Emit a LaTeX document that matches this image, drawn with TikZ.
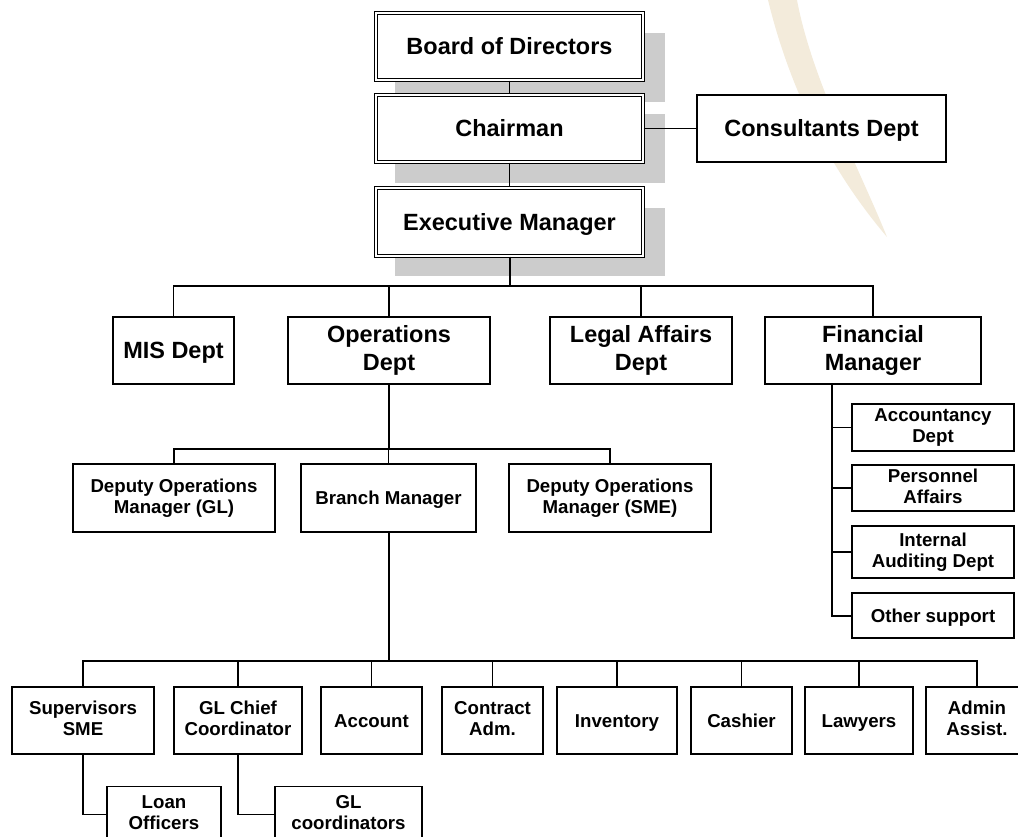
\documentclass[tikz,border=0pt]{standalone}
\usepackage{fontspec}
\setmainfont{Liberation Sans}
\definecolor{shadowgray}{HTML}{CCCCCC}
\definecolor{swoosh}{HTML}{F3EBDB}
\newcommand\toppart{\rule{0pt}{0.92em}}
\newcommand\botpart{\rule[-0.22em]{0pt}{0.22em}}
\tikzset{
  box/.style={draw=black, line width=0.9pt, fill=white, align=center, inner sep=2pt,
    font=\fontsize{14}{15.8}\selectfont\bfseries,
    execute at begin node=\toppart, execute at end node=\botpart},
  bigbox/.style={box, font=\fontsize{17.6}{20.8}\selectfont\bfseries},
  dblbox/.style={bigbox, double=white, double distance=1.2pt, line width=0.9pt},
  conn/.style={draw=black, line width=0.8pt},
  thickconn/.style={draw=black, line width=1.5pt}
}
\begin{document}
\begin{tikzpicture}[x=0.75pt, y=-0.75pt]
\useasboundingbox (0,0) rectangle (1018,836);
% background swoosh
\fill[swoosh] (768,0) .. controls (790,90) and (830,170) .. (887,237)
   .. controls (860,170) and (812,80) .. (797,0) -- cycle;
% shadows
\fill[shadowgray] (395,33) rectangle (665,102);
\fill[shadowgray] (395,114) rectangle (665,183);
\fill[shadowgray] (395,208) rectangle (665,276);

% top level nodes
\node[dblbox, minimum width=200.25pt, minimum height=50.25pt] (board) at (509.5,46.5) {Board of Directors};
\node[dblbox, minimum width=200.25pt, minimum height=50.25pt] (chair) at (509.5,128.5) {Chairman};
\node[dblbox, minimum width=200.25pt, minimum height=51pt] (exec) at (509.5,222) {Executive Manager};
\node[bigbox, minimum width=186.75pt, minimum height=50.25pt] (cons) at (821.5,128.5) {Consultants Dept};

% level 2
\node[bigbox, minimum width=90.75pt, minimum height=50.25pt] (mis) at (173.5,350.5) {MIS Dept};
\node[bigbox, minimum width=151.5pt, minimum height=50.25pt] (ops) at (389,350.5) {Operations\\Dept};
\node[bigbox, minimum width=136.5pt, minimum height=50.25pt] (legal) at (641,350.5) {Legal Affairs\\Dept};
\node[bigbox, minimum width=162pt, minimum height=50.25pt] (fin) at (873,350.5) {Financial\\Manager};

% level 3
\node[box, minimum width=151.5pt, minimum height=51pt] (dgl) at (174,498) {Deputy Operations\\Manager (GL)};
\node[box, minimum width=131.25pt, minimum height=51pt] (bm) at (388.5,498) {Branch Manager};
\node[box, minimum width=151.5pt, minimum height=51pt] (dsme) at (610,498) {Deputy Operations\\Manager (SME)};

% financial sub
\node[box, minimum width=121.5pt, minimum height=35.25pt] (acc) at (933,427.5) {Accountancy\\Dept};
\node[box, minimum width=121.5pt, minimum height=34.5pt] (pers) at (933,488) {Personnel\\Affairs};
\node[box, minimum width=121.5pt, minimum height=39pt] (intl) at (933,552) {Internal\\Auditing Dept};
\node[box, minimum width=121.5pt, minimum height=33.75pt] (oth) at (933,615.5) {Other support};

% bottom row
\node[box, minimum width=106.5pt, minimum height=50.25pt] (sup) at (83,720.5) {Supervisors\\SME};
\node[box, minimum width=96pt, minimum height=50.25pt] (glc) at (238,720.5) {GL Chief\\Coordinator};
\node[box, minimum width=75.75pt, minimum height=50.25pt] (acct) at (371.5,720.5) {Account};
\node[box, minimum width=75.75pt, minimum height=50.25pt] (contr) at (492.5,720.5) {Contract\\Adm.};
\node[box, minimum width=90pt, minimum height=50.25pt] (inv) at (617,720.5) {Inventory};
\node[box, minimum width=75.75pt, minimum height=50.25pt] (cash) at (741.5,720.5) {Cashier};
\node[box, minimum width=81pt, minimum height=50.25pt] (law) at (859,720.5) {Lawyers};
\node[box, minimum width=76.5pt, minimum height=50.25pt] (admin) at (977,720.5) {Admin\\Assist.};

% lowest
\node[box, minimum width=85.5pt, minimum height=42pt, anchor=north] (loan) at (164,786) {Loan\\Officers};
\node[box, minimum width=110.25pt, minimum height=42pt, anchor=north] (glco) at (348.5,786) {GL\\coordinators};

% connectors
\draw[conn] (board.south) -- (chair.north);
\draw[conn] (chair.south) -- (exec.north);
\draw[conn] (chair.east) -- (cons.west);

\coordinate (h1) at (509.5,286);
\draw[thickconn] (exec.south) -- (h1);
\draw[conn] (mis.north) |- (h1) -| (fin.north);
\draw[conn] (ops.north) -- (ops.north |- h1);
\draw[conn] (legal.north) -- (legal.north |- h1);

\coordinate (h2) at (389,449);
\draw[conn] (ops.south) -- (h2);
\draw[conn] (dgl.north) |- (h2) -| (dsme.north);
\draw[conn] (bm.north) -- (bm.north |- h2);

\coordinate (h3) at (388.5,661);
\draw[thickconn] (bm.south) -- (h3);
\draw[thickconn] (sup.north) |- (h3) -| (admin.north);
\foreach \n in {glc,acct,contr,inv,cash,law}
  \draw[conn] (\n.north) -- (\n.north |- h3);

\path (fin.south) ++(-41,0) coordinate (fv);
\draw[thickconn] (fv) |- (oth.west);
\foreach \n in {acc,pers,intl}
  \draw[conn] (fv |- \n.west) -- (\n.west);

\draw[conn] (sup.south) |- (loan.west);
\draw[conn] (glc.south) |- (glco.west);
\end{tikzpicture}
\end{document}
